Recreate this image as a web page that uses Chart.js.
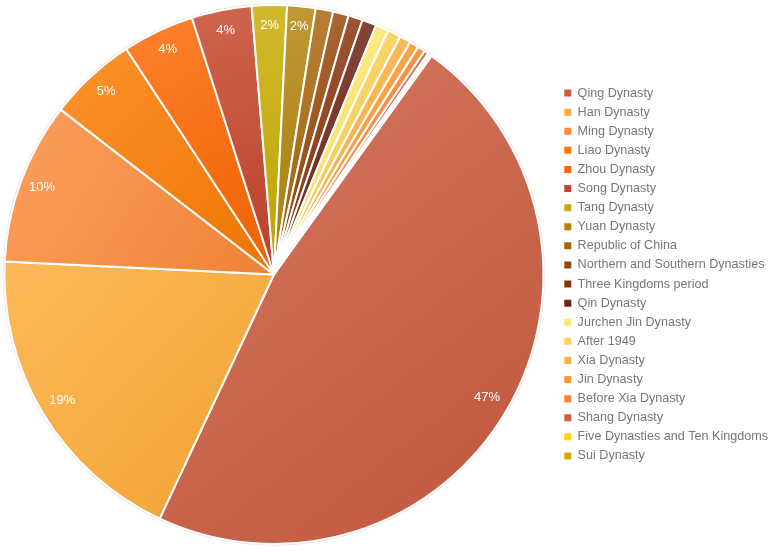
<!DOCTYPE html>
<html>
<head>
<meta charset="utf-8">
<script src="https://cdn.jsdelivr.net/npm/chart.js@4"></script>
<style>
  html, body { margin: 0; padding: 0; background: #fff; overflow: hidden; }
  #wrap { width: 770px; height: 554px; overflow: hidden; }
  #dynastyChart { margin-left: -10px; display: block; }
</style>
</head>
<body>
<div id="wrap"><canvas id="dynastyChart" width="780" height="554"></canvas></div>
<script>
// dynasties, in legend order
const dynasties = [
    'Qing Dynasty', 'Han Dynasty', 'Ming Dynasty', 'Liao Dynasty', 'Zhou Dynasty',
    'Song Dynasty', 'Tang Dynasty', 'Yuan Dynasty', 'Republic of China',
    'Northern and Southern Dynasties', 'Three Kingdoms period', 'Qin Dynasty',
    'Jurchen Jin Dynasty', 'After 1949', 'Xia Dynasty', 'Jin Dynasty',
    'Before Xia Dynasty', 'Shang Dynasty', 'Five Dynasties and Ten Kingdoms', 'Sui Dynasty'
];
// share of items (percent)
const shares = [
    47.0, 18.8, 9.7, 5.3, 4.3,
    3.6, 2.1, 1.7, 1.05,
    0.94, 0.86, 0.86,
    0.78, 0.8, 0.67, 0.55,
    0.45, 0.25, 0.15, 0.1
];
const sliceColors = [
    '#ca5a3e', '#fdab35', '#fc8a3a', '#fa7b00', '#fd6500',
    '#c4432a', '#c8ab00', '#b0820a', '#a8640a',
    '#96470a', '#8a330a', '#6e2214',
    '#fde86a', '#fdd052', '#fdb040', '#fc9a30',
    '#fc8232', '#d45a40', '#fcd800', '#e8a400'
];

const ROTATION = 35.8;

function shade(hex, amt) {
    let r = parseInt(hex.slice(1, 3), 16), g = parseInt(hex.slice(3, 5), 16), b = parseInt(hex.slice(5, 7), 16);
    const mix = (c) => amt >= 0 ? Math.round(c + (255 - c) * amt) : Math.round(c * (1 + amt));
    return 'rgb(' + mix(r) + ',' + mix(g) + ',' + mix(b) + ')';
}

// each slice gets a soft light-to-dark gradient across its own bounding box
function sliceFill(ctx) {
    const base = sliceColors[ctx.dataIndex];
    const area = ctx.chart.chartArea;
    if (!area) return base;
    const cx = (area.left + area.right) / 2, cy = (area.top + area.bottom) / 2;
    const r = Math.min(area.width, area.height) / 2;
    const total = shares.reduce((a, b) => a + b, 0);
    let before = 0;
    for (let i = 0; i < ctx.dataIndex; i++) before += shares[i];
    const a0 = (ROTATION - 90) * Math.PI / 180 + before / total * 2 * Math.PI;
    const a1 = a0 + shares[ctx.dataIndex] / total * 2 * Math.PI;
    let xs = [cx], ys = [cy];
    for (let k = 0; k <= 24; k++) {
        const a = a0 + (a1 - a0) * k / 24;
        xs.push(cx + r * Math.cos(a));
        ys.push(cy + r * Math.sin(a));
    }
    const g = ctx.chart.ctx.createLinearGradient(Math.min(...xs), Math.min(...ys), Math.max(...xs), Math.max(...ys));
    g.addColorStop(0, shade(base, 0.18));
    g.addColorStop(1, shade(base, -0.05));
    return g;
}

// percent labels inside the larger slices
const sliceLabels = {
    id: 'sliceLabels',
    afterDatasetsDraw(chart) {
        const meta = chart.getDatasetMeta(0);
        const total = shares.reduce((a, b) => a + b, 0);
        const c = chart.ctx;
        c.save();
        c.fillStyle = '#ffffff';
        c.font = '13px "Liberation Sans", Arial, sans-serif';
        c.textAlign = 'center';
        c.textBaseline = 'middle';
        meta.data.forEach((arc, i) => {
            const pct = shares[i] / total * 100;
            if (pct < 1.5) return;
            const mid = (arc.startAngle + arc.endAngle) / 2;
            const rr = arc.outerRadius * 0.917;
            c.fillText(Math.round(pct) + '%', arc.x + rr * Math.cos(mid), arc.y + rr * Math.sin(mid) - 2);
        });
        c.restore();
    }
};

// faint grey rim around the pie
const pieRim = {
    id: 'pieRim',
    beforeDatasetsDraw(chart) {
        const arc = chart.getDatasetMeta(0).data[0];
        if (!arc) return;
        const c = chart.ctx;
        c.save();
        c.beginPath();
        c.arc(arc.x, arc.y, arc.outerRadius + 0.5, 0, Math.PI * 2);
        c.strokeStyle = 'rgba(0,0,0,0.12)';
        c.lineWidth = 2;
        c.stroke();
        c.restore();
    }
};

const dynastyChart = new Chart(document.getElementById('dynastyChart').getContext('2d'), {
    type: 'pie',
    data: {
        labels: dynasties,
        datasets: [{
            data: shares,
            backgroundColor: sliceFill,
            borderColor: '#ffffff',
            borderWidth: 2
        }]
    },
    options: {
        responsive: false,
        animation: false,
        rotation: ROTATION,
        layout: { padding: { top: 4, bottom: 9, left: 0, right: -8 } },
        plugins: {
            tooltip: { enabled: false },
            legend: {
                position: 'right',
                labels: {
                    boxWidth: 7,
                    boxHeight: 7,
                    padding: 6.5,
                    color: '#777777',
                    font: { family: '"Liberation Sans", Arial, sans-serif', size: 12.6 },
                    generateLabels: () => dynasties.map((name, i) => ({
                        text: name,
                        fillStyle: sliceColors[i],
                        strokeStyle: sliceColors[i],
                        lineWidth: 0,
                        hidden: false,
                        index: i,
                        fontColor: '#777777'
                    }))
                }
            }
        }
    },
    plugins: [pieRim, sliceLabels]
});
</script>
</body>
</html>
